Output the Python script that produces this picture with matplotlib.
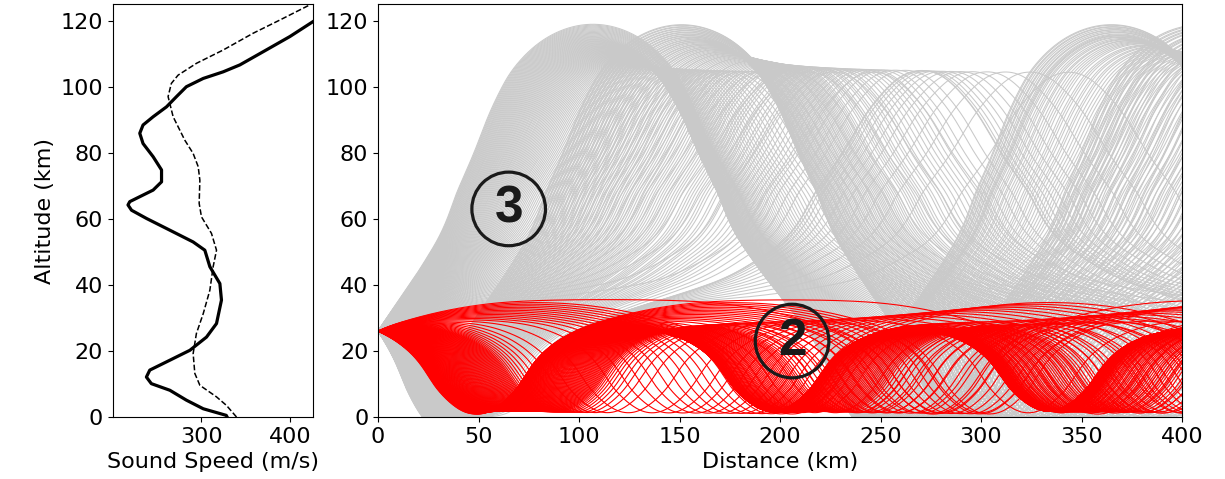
import numpy as np
import matplotlib.pyplot as plt

# effective sound speed profile (solid) and static sound speed (dashed)
alt_eff = [0, 0.5, 2.5, 5.1, 8.1, 10.1, 12.1, 14.2, 17.2, 20.2, 24.2, 28.3, 35.4, 40.4,
           45.5, 50.5, 53, 56.6, 60.1, 62.6, 64.2, 65.2, 66.7, 68.7, 71.2, 74.8, 78.8,
           82.8, 85.9, 88.4, 90.9, 93.9, 97, 100, 102.5, 104.5, 106.6, 110.6, 115.2,
           119.7, 130]
c_eff = [329, 328, 302, 283, 264.3, 243.4, 237.8, 241.6, 264.3, 286.9, 305.7, 317,
         322.6, 320.8, 309.5, 303.8, 290.6, 264, 238, 221, 217, 219, 230.3, 245.4,
         254.9, 254.9, 245.4, 234, 230.3, 234, 245.4, 260.5, 271.8, 283, 302, 324.5,
         343.4, 369.8, 400, 426, 480]

alt_snd = [0, 3.5, 6.1, 9.6, 13.2, 19.2, 25.3, 31.3, 38.4, 45.5, 50.5, 55.6, 60.6,
           64.7, 71.7, 75.8, 79.8, 83.8, 90.9, 97, 101, 103.5, 107.1, 111.1, 116.2,
           120.2, 124.8]
c_snd = [339.6, 328.3, 317, 298.2, 292.5, 290.6, 294.3, 302, 309.5, 313.2, 317,
         311.3, 300, 297.4, 298.2, 296.3, 290.6, 281.2, 268, 262.3, 266, 273.6,
         294.5, 324.5, 358.5, 388.7, 422.6]

src_alt = 26.0
launch_deg = np.arange(-42.5, 42.51, 0.25)
range_scale = 0.955

# ---- ray tracing through the effective profile ----
zg = np.arange(0, 135, 0.05)
cg = np.interp(zg, alt_eff, c_eff)
k = 16
cg = np.convolve(np.pad(cg, k, mode='edge'), np.ones(2 * k + 1) / (2 * k + 1), mode='same')[k:-k]
dcg = np.gradient(cg, zg)


def rhs(z, th):
    c = np.interp(z, zg, cg)
    dc = np.interp(z, zg, dcg)
    return np.cos(th), np.sin(th), -np.cos(th) / c * dc


ds = 0.25
nstep = 2800
th = np.radians(launch_deg)
x = np.zeros_like(th)
z = np.full_like(th, src_alt)
X = [x.copy()]
Z = [z.copy()]
for i in range(nstep):
    dx1, dz1, dt1 = rhs(z, th)
    dx2, dz2, dt2 = rhs(z + 0.5 * ds * dz1, th + 0.5 * ds * dt1)
    x = x + ds * dx2
    z = z + ds * dz2
    th = th + ds * dt2
    hit = z < 0
    z[hit] = -z[hit]
    th[hit] = -th[hit]
    X.append(x.copy())
    Z.append(z.copy())
    if x.min() * range_scale > 405:
        break
X = np.array(X) * range_scale
Z = np.array(Z)
ducted = Z.max(axis=0) < 40

fig = plt.figure(figsize=(12.25, 4.79), dpi=100)
ax1 = fig.add_axes([0.0922, 0.1294, 0.1633, 0.862])
ax2 = fig.add_axes([0.3086, 0.1294, 0.6563, 0.862])

ax1.plot(c_eff, alt_eff, color='black', lw=2.3, solid_joinstyle='round')
ax1.plot(c_snd, alt_snd, color='black', lw=1.1, ls='--')
ax1.set_xlim(200, 426)
ax1.set_ylim(0, 125)
ax1.set_xticks([300, 400])
ax1.set_yticks(range(0, 121, 20))
ax1.set_xlabel('Sound Speed (m/s)', fontsize=16)
ax1.set_ylabel('Altitude (km)', fontsize=16)

ax2.plot(X[:, ~ducted], Z[:, ~ducted], color='#c9c9c9', lw=0.75)
ax2.plot(X[:, ducted], Z[:, ducted], color='#ff0000', lw=0.8)
ax2.set_xlim(0, 400)
ax2.set_ylim(0, 125)
ax2.set_xticks(range(0, 401, 50))
ax2.set_yticks(range(0, 121, 20))
ax2.set_xlabel('Distance (km)', fontsize=16)

for lx, ly, lab in [(65, 63, '3'), (206, 23, '2')]:
    ax2.scatter([lx], [ly], s=53 ** 2, facecolors='none', edgecolors='#1a1a1a', linewidths=2.3, zorder=5)
    ax2.text(lx, ly, lab, fontsize=37, fontweight='bold', family='Liberation Sans',
             ha='center', va='center', color='#1a1a1a', zorder=6)

for ax in (ax1, ax2):
    ax.tick_params(labelsize=16)

fig.savefig('out.png', dpi=100)
